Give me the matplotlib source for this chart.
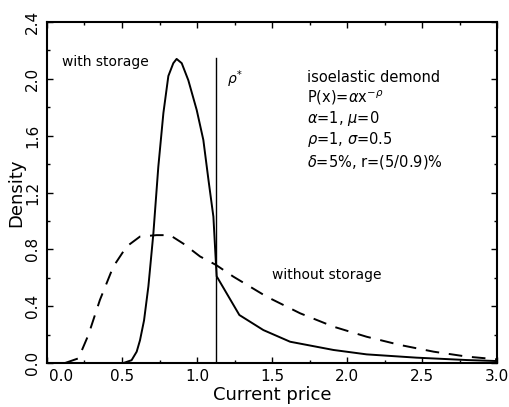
import matplotlib
matplotlib.use("Agg")
import matplotlib.pyplot as plt
from matplotlib.ticker import MultipleLocator, FuncFormatter, FormatStrFormatter

# With storage (solid)
with_x = [0.0, 0.509, 0.564, 0.598, 0.62, 0.647, 0.676, 0.709, 0.742, 0.776, 0.809,
          0.842, 0.864, 0.898, 0.942, 0.998, 1.042, 1.076, 1.109, 1.127, 1.131,
          1.282, 1.442, 1.62, 1.909, 2.13, 2.46, 2.80, 3.0]
with_y = [0.0, 0.0, 0.02, 0.08, 0.16, 0.30, 0.54, 0.91, 1.38, 1.76, 2.02,
          2.11, 2.14, 2.11, 1.99, 1.78, 1.57, 1.29, 1.03, 0.68, 0.61,
          0.338, 0.232, 0.15, 0.092, 0.061, 0.038, 0.021, 0.014]

# Without storage (dashed)
without_x = [0.12, 0.21, 0.276, 0.353, 0.442, 0.531, 0.62, 0.73, 0.82, 0.909, 1.02,
             1.127, 1.242, 1.464, 1.687, 1.909, 2.13, 2.353, 2.576, 2.80, 3.0]
without_y = [0.0, 0.033, 0.197, 0.444, 0.678, 0.82, 0.89, 0.90, 0.90, 0.84, 0.75,
             0.69, 0.608, 0.467, 0.35, 0.256, 0.185, 0.127, 0.08, 0.045, 0.026]

p_star = 1.125
p_star_top = 2.15

params = ["isoelastic demond",
          r"P(x)=$\alpha$x$^{-\rho}$",
          r"$\alpha$=1, $\mu$=0",
          r"$\rho$=1, $\sigma$=0.5",
          r"$\delta$=5%, r=(5/0.9)%"]
param_y = [2.01, 1.866, 1.72, 1.57, 1.415]

plt.rcParams['font.family'] = ['DejaVu Sans']
plt.rcParams['mathtext.fontset'] = 'dejavusans'

fig = plt.figure(figsize=(5.10, 4.07), dpi=100)
ax = fig.add_axes([0.092, 0.108, 0.883, 0.838])

ax.plot(with_x, with_y, color='black', lw=1.4)
ax.plot(without_x, without_y, color='black', lw=1.4, dashes=(7, 5))
ax.plot([p_star, p_star], [0, p_star_top], color='black', lw=1.0)

ax.set_xlim(0, 3.0)
ax.set_ylim(0, 2.4)
ax.xaxis.set_major_locator(MultipleLocator(0.5))
ax.xaxis.set_minor_locator(MultipleLocator(0.25))
ax.yaxis.set_major_locator(MultipleLocator(0.4))
ax.yaxis.set_minor_locator(MultipleLocator(0.2))
ax.xaxis.set_major_formatter(FuncFormatter(lambda v, p: '' if abs(v) < 1e-9 else f'{v:.1f}'))
ax.yaxis.set_major_formatter(FormatStrFormatter('%.1f'))
ax.tick_params(which='both', direction='in', top=True, right=True, labelsize=11)
ax.tick_params(which='major', length=4, width=1)
ax.tick_params(which='minor', length=2.5, width=1)
ax.tick_params(axis='x', pad=4)
ax.tick_params(axis='y', pad=5)
for s in ax.spines.values():
    s.set_linewidth(1.5)

# first x tick label, shifted right off the corner as in the original
ax.annotate("0.0", xy=(0.0, 0.0), xycoords=('data', 'axes fraction'),
            xytext=(1.5, -4), textcoords='offset points',
            ha='left', va='top', fontsize=11)

ax.set_xlabel("Current price", fontsize=13, labelpad=2)
ax.set_ylabel("Density", fontsize=13, labelpad=0)

ax.text(0.1, 2.12, "with storage", fontsize=10, va='center', ha='left')
ax.text(1.2, 2.0, r"$\rho^{*}$", fontsize=10, va='center', ha='left')
ax.text(1.5, 0.62, "without storage", fontsize=10, va='center', ha='left')
for t, yv in zip(params, param_y):
    ax.text(1.73, yv, t, fontsize=10.5, va='center', ha='left')

for lab in ax.get_yticklabels():
    lab.set_rotation(90)
    lab.set_va('center')

fig.savefig("out.png", dpi=100)
